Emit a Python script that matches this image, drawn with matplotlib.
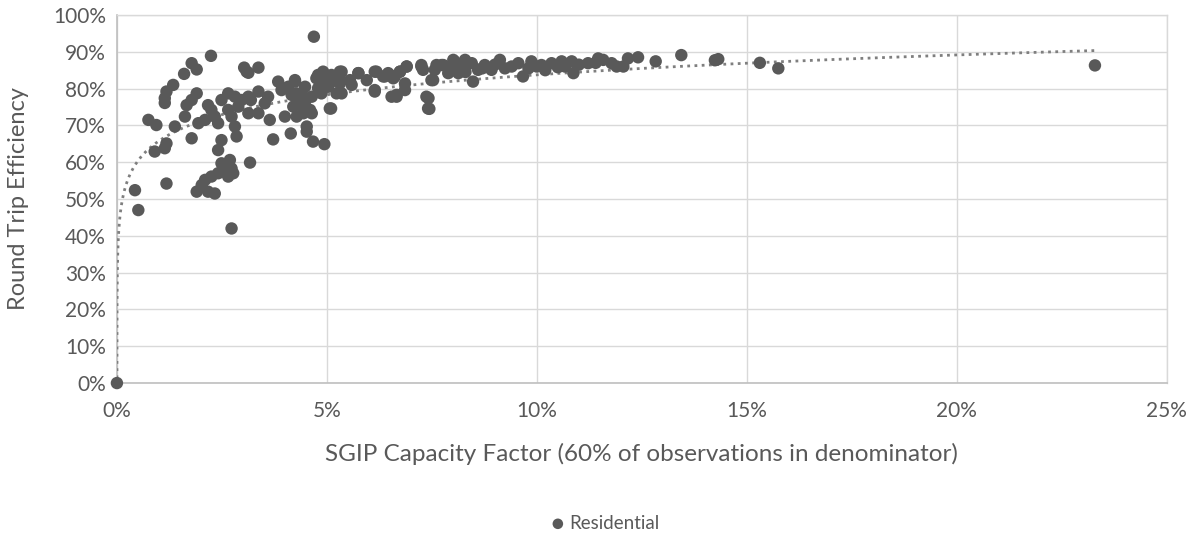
import numpy as np
import matplotlib
matplotlib.use("Agg")
import matplotlib.pyplot as plt
from matplotlib.ticker import PercentFormatter, MultipleLocator

# SGIP residential storage systems: capacity factor vs round trip efficiency (fractions)
capacity_factor = [
    0.000002, 0.0043, 0.0051, 0.0075, 0.0090, 0.0094, 0.0114, 0.0114, 0.0114, 0.0118,
    0.0118, 0.0118, 0.0134, 0.0138, 0.0160, 0.0162, 0.0166, 0.0178, 0.0178, 0.0178,
    0.0190, 0.0190, 0.0190, 0.0194, 0.0202, 0.0210, 0.0210, 0.0217, 0.0217, 0.0224,
    0.0225, 0.0225, 0.0233, 0.0233, 0.0241, 0.0241, 0.0241, 0.0249, 0.0249, 0.0249,
    0.0257, 0.0265, 0.0265, 0.0265, 0.0269, 0.0273, 0.0273, 0.0273, 0.0277, 0.0281,
    0.0281, 0.0285, 0.0289, 0.0297, 0.0303, 0.0309, 0.0313, 0.0313, 0.0313, 0.0317,
    0.0319, 0.0337, 0.0337, 0.0337, 0.0352, 0.0360, 0.0364, 0.0372, 0.0384, 0.0392,
    0.0400, 0.0408, 0.0414, 0.0416, 0.0424, 0.0428, 0.0432, 0.0444, 0.0444, 0.0452,
    0.0452, 0.0464, 0.0464, 0.0467, 0.0469, 0.0475, 0.0479, 0.0491, 0.0494, 0.0503,
    0.0510, 0.0511, 0.0531, 0.0535, 0.0535, 0.0559, 0.0575, 0.0614, 0.0614, 0.0638,
    0.0646, 0.0654, 0.0658, 0.0662, 0.0666, 0.0674, 0.0686, 0.0690, 0.0725, 0.0742,
    0.0744, 0.0753, 0.0757, 0.0773, 0.0789, 0.0805, 0.0813, 0.0821, 0.0829, 0.0845,
    0.0848, 0.0860, 0.0876, 0.0892, 0.0912, 0.0924, 0.0956, 0.0967, 0.0987, 0.1011,
    0.1035, 0.1059, 0.1067, 0.1083, 0.1087, 0.1122, 0.1146, 0.1158, 0.1178, 0.1190,
    0.1206, 0.1217, 0.1241, 0.1283, 0.1344, 0.1424, 0.1432, 0.1531, 0.1575, 0.2329,
    0.0424, 0.0428, 0.0448, 0.0448, 0.0460, 0.0479, 0.0491, 0.0495, 0.0487, 0.0507,
    0.0511, 0.0531, 0.0531, 0.0523, 0.0555, 0.0575, 0.0595, 0.0618, 0.0614, 0.0634,
    0.0650, 0.0666, 0.0674, 0.0690, 0.0686, 0.0725, 0.0729, 0.0737, 0.0741, 0.0749,
    0.0761, 0.0777, 0.0801, 0.0801, 0.0420, 0.0444, 0.0830, 0.0870, 0.0900, 0.0940,
    0.0980, 0.1000, 0.1020, 0.1050, 0.1100, 0.1140,
]
round_trip_eff = [
    0.000, 0.524, 0.470, 0.715, 0.629, 0.701, 0.774, 0.761, 0.638, 0.792,
    0.651, 0.542, 0.810, 0.697, 0.840, 0.724, 0.755, 0.869, 0.769, 0.665,
    0.852, 0.787, 0.520, 0.706, 0.538, 0.552, 0.715, 0.755, 0.520, 0.889,
    0.742, 0.561, 0.724, 0.515, 0.706, 0.633, 0.570, 0.769, 0.597, 0.660,
    0.579, 0.787, 0.742, 0.561, 0.606, 0.724, 0.583, 0.420, 0.570, 0.778,
    0.697, 0.670, 0.751, 0.769, 0.857, 0.846, 0.778, 0.843, 0.733, 0.599,
    0.769, 0.857, 0.792, 0.733, 0.760, 0.778, 0.715, 0.662, 0.819, 0.796,
    0.724, 0.805, 0.678, 0.783, 0.823, 0.724, 0.760, 0.746, 0.778, 0.697,
    0.683, 0.733, 0.778, 0.656, 0.941, 0.828, 0.801, 0.842, 0.649, 0.805,
    0.746, 0.819, 0.823, 0.846, 0.787, 0.810, 0.842, 0.792, 0.846, 0.833,
    0.842, 0.778, 0.828, 0.833, 0.783, 0.846, 0.796, 0.860, 0.860, 0.774,
    0.745, 0.823, 0.851, 0.864, 0.842, 0.873, 0.842, 0.860, 0.878, 0.869,
    0.819, 0.851, 0.864, 0.851, 0.878, 0.855, 0.869, 0.833, 0.874, 0.864,
    0.869, 0.874, 0.860, 0.874, 0.842, 0.869, 0.882, 0.878, 0.869, 0.860,
    0.860, 0.882, 0.885, 0.874, 0.891, 0.877, 0.880, 0.870, 0.855, 0.863,
    0.819, 0.787, 0.805, 0.764, 0.742, 0.837, 0.846, 0.814, 0.787, 0.746,
    0.837, 0.846, 0.814, 0.787, 0.823, 0.842, 0.823, 0.846, 0.796, 0.833,
    0.837, 0.778, 0.846, 0.860, 0.814, 0.864, 0.851, 0.778, 0.746, 0.823,
    0.864, 0.864, 0.878, 0.860, 0.751, 0.733, 0.845, 0.855, 0.865, 0.860,
    0.855, 0.860, 0.850, 0.858, 0.865, 0.870,
]

# Logarithmic trend: efficiency = slope * ln(capacity factor) + intercept
trend_slope = 0.078
trend_intercept = 1.017

series_name = "Residential"
x_label = "SGIP Capacity Factor (60% of observations in denominator)"
y_label = "Round Trip Efficiency"

plt.rcParams["font.family"] = ["Lato", "DejaVu Sans"]
text_color = "#595959"
grid_color = "#d9d9d9"
point_color = "#595959"

fig = plt.figure(figsize=(11.93, 5.35), dpi=100)
ax = fig.add_axes([0.098, 0.284, 0.880, 0.688])

x = np.array(capacity_factor)
y = np.array(round_trip_eff)

tx = np.geomspace(x.min(), x.max(), 600)
ty = trend_slope * np.log(tx) + trend_intercept
ax.plot(tx, ty, linestyle=(0, (1, 1.6)), color="#7f7f7f", linewidth=2.0,
        zorder=3, clip_on=True)

ax.scatter(x, y, s=80, color=point_color, edgecolors="none", zorder=4,
           label=series_name, clip_on=False)

ax.set_xlim(0, 0.25)
ax.set_ylim(0, 1.0)
ax.xaxis.set_major_locator(MultipleLocator(0.05))
ax.yaxis.set_major_locator(MultipleLocator(0.10))
ax.xaxis.set_major_formatter(PercentFormatter(1.0, decimals=0))
ax.yaxis.set_major_formatter(PercentFormatter(1.0, decimals=0))

ax.grid(True, color=grid_color, linewidth=1.0, zorder=0)
ax.set_axisbelow(True)
for side in ("top", "right"):
    ax.spines[side].set_color(grid_color)
    ax.spines[side].set_linewidth(1.0)
for side in ("left", "bottom"):
    ax.spines[side].set_color("#bfbfbf")
    ax.spines[side].set_linewidth(1.2)

ax.tick_params(axis="both", length=0, labelsize=15, labelcolor=text_color)
ax.tick_params(axis="x", pad=13)
ax.tick_params(axis="y", pad=8)

ax.set_xlabel(x_label, fontsize=17.5, color=text_color, labelpad=16)
ax.set_ylabel(y_label, fontsize=17, color=text_color, labelpad=17)

leg = fig.legend(loc="center", bbox_to_anchor=(0.507, 0.022), frameon=False,
                 fontsize=13.5, handletextpad=0.2, handlelength=0.8,
                 markerscale=0.85, borderaxespad=0)
for t in leg.get_texts():
    t.set_color(text_color)

fig.savefig("out.png", dpi=100)
